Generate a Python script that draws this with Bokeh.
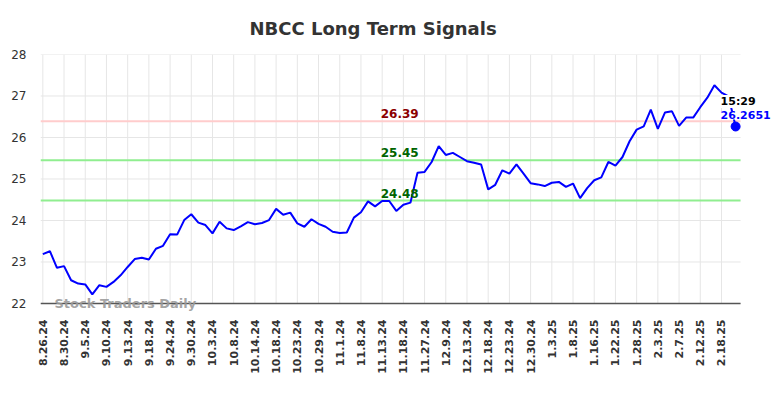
import math
from bokeh.plotting import figure
from bokeh.models import Range1d, FixedTicker, Label
from bokeh.embed import file_html
from bokeh.resources import INLINE

# ---- data ----
closes = [
    23.19, 23.26, 22.86, 22.90, 22.56, 22.48, 22.46, 22.22, 22.44, 22.40,
    22.52, 22.68, 22.88, 23.07, 23.10, 23.06, 23.32, 23.39, 23.67, 23.66,
    24.01, 24.15, 23.95, 23.89, 23.69, 23.97, 23.81, 23.77, 23.86, 23.96,
    23.91, 23.94, 24.01, 24.28, 24.14, 24.19, 23.93, 23.85, 24.03, 23.92,
    23.85, 23.73, 23.70, 23.71, 24.07, 24.20, 24.46, 24.34, 24.47, 24.47,
    24.23, 24.38, 24.43, 25.15, 25.17, 25.41, 25.79, 25.58, 25.63, 25.53,
    25.43, 25.39, 25.35, 24.75, 24.86, 25.21, 25.13, 25.35, 25.13, 24.90,
    24.87, 24.83, 24.91, 24.93, 24.81, 24.89, 24.54, 24.78, 24.97, 25.04,
    25.41, 25.32, 25.53, 25.91, 26.19, 26.27, 26.67, 26.21, 26.60, 26.63,
    26.28, 26.48, 26.48, 26.73, 26.96, 27.26, 27.08, 26.99, 26.2651,
]
tick_labels = [
    "8.26.24", "8.30.24", "9.5.24", "9.10.24", "9.13.24", "9.18.24", "9.24.24",
    "9.30.24", "10.3.24", "10.8.24", "10.14.24", "10.18.24", "10.23.24",
    "10.29.24", "11.1.24", "11.8.24", "11.13.24", "11.18.24", "11.27.24",
    "12.9.24", "12.13.24", "12.18.24", "12.23.24", "12.30.24", "1.3.25",
    "1.8.25", "1.16.25", "1.22.25", "1.28.25", "2.3.25", "2.7.25", "2.12.25",
    "2.18.25",
]
tick_step = 3
y_ticks = [22, 23, 24, 25, 26, 27, 28]
levels = [26.39, 25.45, 24.48]
level_labels = ["26.39", "25.45", "24.48"]
level_line_colors = ["#ffcccc", "#90ee90", "#90ee90"]
level_text_colors = ["#8b0000", "#006400", "#006400"]
last_time = "15:29"
last_value = 26.2651
title_text = "NBCC Long Term Signals"
watermark = "Stock Traders Daily"

xs = list(range(len(closes)))
tick_pos = [i * tick_step for i in range(len(tick_labels))]

FONT = "DejaVu Sans"
X0, X_AREA_END, X1 = -0.33, 98.7, 103.5
Y_LO, Y_HI = 21.783, 28

p = figure(width=784, height=398, output_backend="svg", toolbar_location=None,
           x_range=Range1d(X0, X1), y_range=Range1d(Y_LO, Y_HI),
           min_border_left=40, min_border_right=10, min_border_top=54,
           min_border_bottom=86)
p.outline_line_color = None
p.background_fill_color = "white"
p.border_fill_color = "white"

# title
p.title.text = title_text
p.title.text_font = FONT
p.title.text_font_style = "bold"
p.title.text_font_size = "18px"
p.title.text_color = "#333333"
p.title.align = "left"
p.title.offset = 209
p.title.standoff = 31

# grid drawn only over the plotting area
p.xgrid.visible = False
p.ygrid.visible = False
p.segment(x0=tick_pos, y0=[y_ticks[0]] * len(tick_pos), x1=tick_pos,
          y1=[y_ticks[-1]] * len(tick_pos), line_color="#e6e6e6", line_width=1)
p.segment(x0=[X0] * len(y_ticks), y0=y_ticks, x1=[X_AREA_END] * len(y_ticks),
          y1=y_ticks, line_color="#e6e6e6", line_width=1)

# x axis
p.xaxis.ticker = FixedTicker(ticks=tick_pos)
p.xaxis.major_label_overrides = {t: lab for t, lab in zip(tick_pos, tick_labels)}
p.xaxis.major_label_orientation = math.pi / 2
p.xaxis.major_label_text_font = FONT
p.xaxis.major_label_text_font_style = "bold"
p.xaxis.major_label_text_font_size = "11px"
p.xaxis.major_label_text_color = "#333333"
p.xaxis.major_tick_line_color = None
p.xaxis.minor_tick_line_color = None
p.xaxis.major_tick_out = 0
p.xaxis.major_label_standoff = 7
p.xaxis.axis_line_color = None

# y axis
p.yaxis.ticker = FixedTicker(ticks=y_ticks)
p.yaxis.axis_line_color = None
p.yaxis.major_tick_line_color = None
p.yaxis.minor_tick_line_color = None
p.yaxis.major_tick_out = 0
p.yaxis.major_label_standoff = 14
p.yaxis.major_label_text_font = FONT
p.yaxis.major_label_text_font_size = "12px"
p.yaxis.major_label_text_color = "#333333"

# level lines
p.segment(x0=[X0] * len(levels), y0=levels, x1=[X_AREA_END] * len(levels), y1=levels,
          line_color=level_line_colors, line_width=2)

# bottom axis line
p.segment(x0=[X0], y0=[y_ticks[0]], x1=[X_AREA_END], y1=[y_ticks[0]],
          line_color="#555555", line_width=1.5)

# price line
p.line(xs, closes, line_color="#0000ff", line_width=2)
p.scatter([xs[-1]], [last_value], size=9, color="#0000ff")

# level labels
for lv, lab, tc in zip(levels, level_labels, level_text_colors):
    p.add_layout(Label(x=47.8, y=lv, y_offset=3, text=lab, text_font=FONT,
                       text_font_style="bold", text_font_size="12px", text_color=tc,
                       text_baseline="bottom", text_align="left"))

# last value labels
p.add_layout(Label(x=xs[-1], y=last_value, x_offset=-15, y_offset=25, text=last_time,
                   text_font=FONT, text_font_style="bold", text_font_size="11px",
                   text_color="black", text_baseline="middle", text_align="left",
                   background_fill_color="white"))
p.add_layout(Label(x=xs[-1], y=last_value, x_offset=-15, y_offset=11, text=f"{last_value}",
                   text_font=FONT, text_font_style="bold", text_font_size="11px",
                   text_color="#0000ff", text_baseline="middle", text_align="left",
                   background_fill_color="white"))

# watermark
p.add_layout(Label(x=1.65, y=22, text=watermark, text_font=FONT, text_font_style="bold",
                   text_font_size="13px", text_color="#999999", text_alpha=0.9,
                   text_baseline="middle", text_align="left"))

open("out.html", "w").write(file_html(p, INLINE))
